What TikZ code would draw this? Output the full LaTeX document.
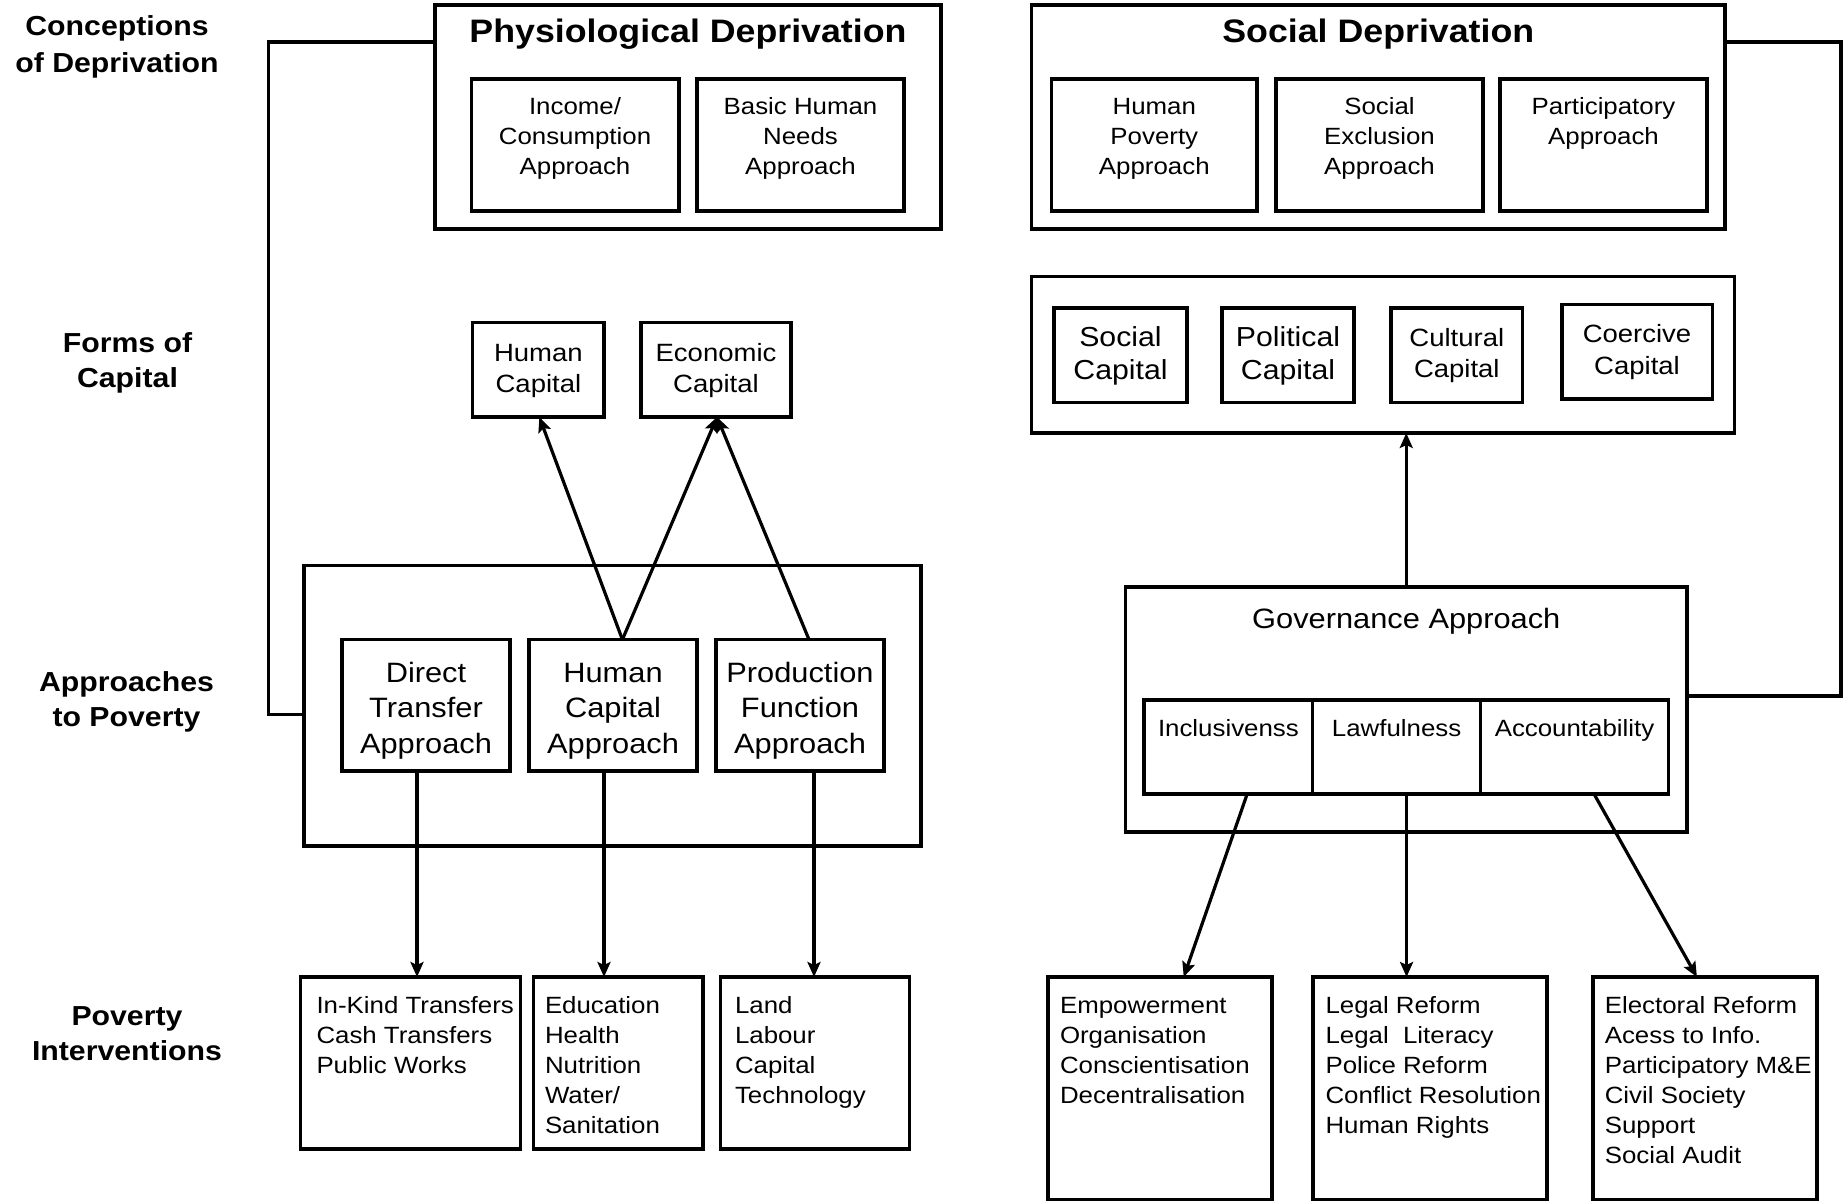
\documentclass[tikz,border=0pt]{standalone}
\usepackage{fontspec}
\setmainfont{Liberation Sans}[FakeStretch=1.1]
\usetikzlibrary{arrows.meta}
\newcommand\TC[1]{\begin{tabular}[t]{@{}c@{}}#1\end{tabular}}
\newcommand\TL[1]{\begin{tabular}[t]{@{}l@{}}#1\end{tabular}}
\newcommand\fsz[2]{\fontsize{#1}{#2}\selectfont}
\newcommand\mkbox[6]{\node[#1, minimum width={#5-#3}, minimum height={#6-#4}] (#2) at ({(#3+#5)/2},{(#4+#6)/2}) {};}
\begin{document}
\begin{tikzpicture}[x=1pt,y=-1pt,
  box/.style={draw, line width=3.4pt, inner sep=0pt, outer sep=0pt},
  conn/.style={line width=3.2pt},
  arr/.style={line width=3.2pt, -{Stealth[length=15pt,width=13pt,inset=3pt]}},
  lbl/.style={inner sep=0pt, outer sep=0pt},
  side/.style={lbl, anchor=base, font=\bfseries\fsz{27.5}{35}},
  title/.style={lbl, anchor=base, font=\bfseries\fsz{32.5}{38}},
  small/.style={lbl, anchor=base, font=\fsz{23.5}{30}},
  smallL/.style={lbl, anchor=base west, font=\fsz{23.5}{30}}
]
\useasboundingbox (0,0) rectangle (1847,1200);
\fill[white] (0,0) rectangle (1847,1200);

% ---------- side labels ----------
\node[side, font=\bfseries\fsz{27.5}{37.5}] (lconc) at (117,35) {\TC{Conceptions\\of Deprivation}};
\node[side] (lforms) at (127.5,352.5) {\TC{Forms of\\Capital}};
\node[side] (lappr) at (126.5,691.3) {\TC{Approaches\\to Poverty}};
\node[side] (linterv) at (127,1025.5) {\TC{Poverty\\Interventions}};

% ---------- conceptions of deprivation ----------
\mkbox{box}{phys}{435}{5}{941}{229}
\node[title] (physT) at (688,42.3) {Physiological Deprivation};
\mkbox{box}{inc}{471.5}{79}{679}{211}
\node[small] (incT) at (575,114.5) {\TC{Income/\\Consumption\\Approach}};
\mkbox{box}{bhn}{697}{79}{904}{211}
\node[small] (bhnT) at (800.5,114.5) {\TC{Basic Human\\Needs\\Approach}};

\mkbox{box}{soc}{1031.6}{5}{1725}{229}
\node[title] (socT) at (1378.3,42.3) {Social Deprivation};
\mkbox{box}{hp}{1051.6}{79}{1257}{211}
\node[small] (hpT) at (1154.3,114.5) {\TC{Human\\Poverty\\Approach}};
\mkbox{box}{se}{1276}{79}{1483}{211}
\node[small] (seT) at (1379.5,114.5) {\TC{Social\\Exclusion\\Approach}};
\mkbox{box}{part}{1500}{79}{1707}{211}
\node[small] (partT) at (1603.5,114.5) {\TC{Participatory\\Approach}};

% ---------- forms of capital ----------
\mkbox{box}{hc}{472.7}{322.5}{604}{417}
\node[lbl, anchor=base, font=\fsz{25}{31.5}] (hcT) at (538.4,361.4) {\TC{Human\\Capital}};
\mkbox{box}{ec}{641}{322.5}{791}{417}
\node[lbl, anchor=base, font=\fsz{25}{31.5}] (ecT) at (716,361.4) {\TC{Economic\\Capital}};

\mkbox{box}{caps}{1031.6}{276.5}{1734.7}{433}
\mkbox{box}{scap}{1054}{308}{1187}{402.5}
\node[lbl, anchor=base, font=\fsz{27.5}{33.4}] (scapT) at (1120.5,346) {\TC{Social\\Capital}};
\mkbox{box}{pcap}{1222}{308}{1354}{402.5}
\node[lbl, anchor=base, font=\fsz{27.5}{33.4}] (pcapT) at (1288,346) {\TC{Political\\Capital}};
\mkbox{box}{ccap}{1391}{308}{1522.6}{402.5}
\node[lbl, anchor=base, font=\fsz{25}{31}] (ccapT) at (1456.8,346) {\TC{Cultural\\Capital}};
\mkbox{box}{kcap}{1562}{304.4}{1712.5}{399}
\node[lbl, anchor=base, font=\fsz{25}{32.5}] (kcapT) at (1637,342.3) {\TC{Coercive\\Capital}};

% ---------- approaches to poverty ----------
\mkbox{box}{appr}{304}{565.6}{921}{846}
\mkbox{box}{dta}{342}{639.6}{510}{771}
\node[lbl, anchor=base, font=\fsz{28}{35.5}] (dtaT) at (426,682) {\TC{Direct\\Transfer\\Approach}};
\mkbox{box}{hca}{529}{639.6}{697}{771}
\node[lbl, anchor=base, font=\fsz{28}{35.5}] (hcaT) at (613,682) {\TC{Human\\Capital\\Approach}};
\mkbox{box}{pfa}{716}{639.6}{884}{771}
\node[lbl, anchor=base, font=\fsz{28}{35.5}] (pfaT) at (800,682) {\TC{Production\\Function\\Approach}};

\mkbox{box}{gov}{1125.5}{587}{1687}{832}
\node[lbl, anchor=base, font=\fsz{28}{34}] (govT) at (1406.3,628.5) {Governance Approach};
\mkbox{box}{incl}{1144}{700}{1312.7}{794}
\mkbox{box}{law}{1312.7}{700}{1480.4}{794}
\mkbox{box}{acc}{1480.4}{700}{1668.7}{794}
\node[small] (inclT) at (1228.4,736) {Inclusivenss};
\node[small] (lawT) at (1396.6,736) {Lawfulness};
\node[small] (accT) at (1574.5,736) {Accountability};

% ---------- poverty interventions ----------
\mkbox{box}{ikt}{300.7}{977}{520.5}{1149}
\node[smallL] (iktT) at (316.5,1013.5) {\TL{In-Kind Transfers\\Cash Transfers\\Public Works}};
\mkbox{box}{edu}{533.7}{977}{703}{1149}
\node[smallL] (eduT) at (545,1013.5) {\TL{Education\\Health\\Nutrition\\Water/\\Sanitation}};
\mkbox{box}{land}{720.7}{977}{909.3}{1149}
\node[smallL] (landT) at (735,1013.5) {\TL{Land\\Labour\\Capital\\Technology}};

\mkbox{box}{emp}{1048}{977}{1272}{1200}
\node[smallL] (empT) at (1060,1013.5) {\TL{Empowerment\\Organisation\\Conscientisation\\Decentralisation}};
\mkbox{box}{legal}{1313}{977}{1547}{1200}
\node[smallL] (legalT) at (1325.5,1013.5) {\TL{Legal Reform\\Legal\ \ Literacy\\Police Reform\\Conflict Resolution\\Human Rights}};
\mkbox{box}{elec}{1592.8}{977}{1817}{1200}
\node[smallL] (elecT) at (1604.8,1013.5) {\TL{Electoral Reform\\Acess to Info.\\Participatory M\&E\\Civil Society\\Support\\Social Audit}};

% ---------- connectors ----------
\coordinate (lcorner) at (268.5,42);
\draw[conn] ([yshift=-37pt]phys.north west) -- (lcorner) |- ([yshift=-9pt]appr.west);
\coordinate (rcorner) at (1841,42);
\draw[conn] ([yshift=-37pt]soc.north east) -- (rcorner) |- ([yshift=13.5pt]gov.east);

\draw[arr] ([xshift=9.4pt]hca.north) -- ([xshift=1pt]hc.south);
\draw[arr] ([xshift=9.4pt]hca.north) -- ([xshift=1pt]ec.south);
\draw[arr] ([xshift=9pt]pfa.north) -- ([xshift=1pt]ec.south);

\draw[arr] ([xshift=-9pt]dta.south) -- ([xshift=-9pt]dta.south |- ikt.north);
\draw[arr] ([xshift=-9pt]hca.south) -- ([xshift=-9pt]hca.south |- edu.north);
\draw[arr] ([xshift=14pt]pfa.south) -- ([xshift=14pt]pfa.south |- land.north);

\draw[arr] (gov.north) -- (gov.north |- caps.south);
\draw[arr] ([xshift=18.8pt]incl.south) -- ([xshift=23.7pt]emp.north);
\draw[arr] ([xshift=10pt]law.south) -- ([xshift=10pt]law.south |- legal.north);
\draw[arr] ([xshift=19.5pt]acc.south) -- ([xshift=-8pt]elec.north);
\end{tikzpicture}
\end{document}
